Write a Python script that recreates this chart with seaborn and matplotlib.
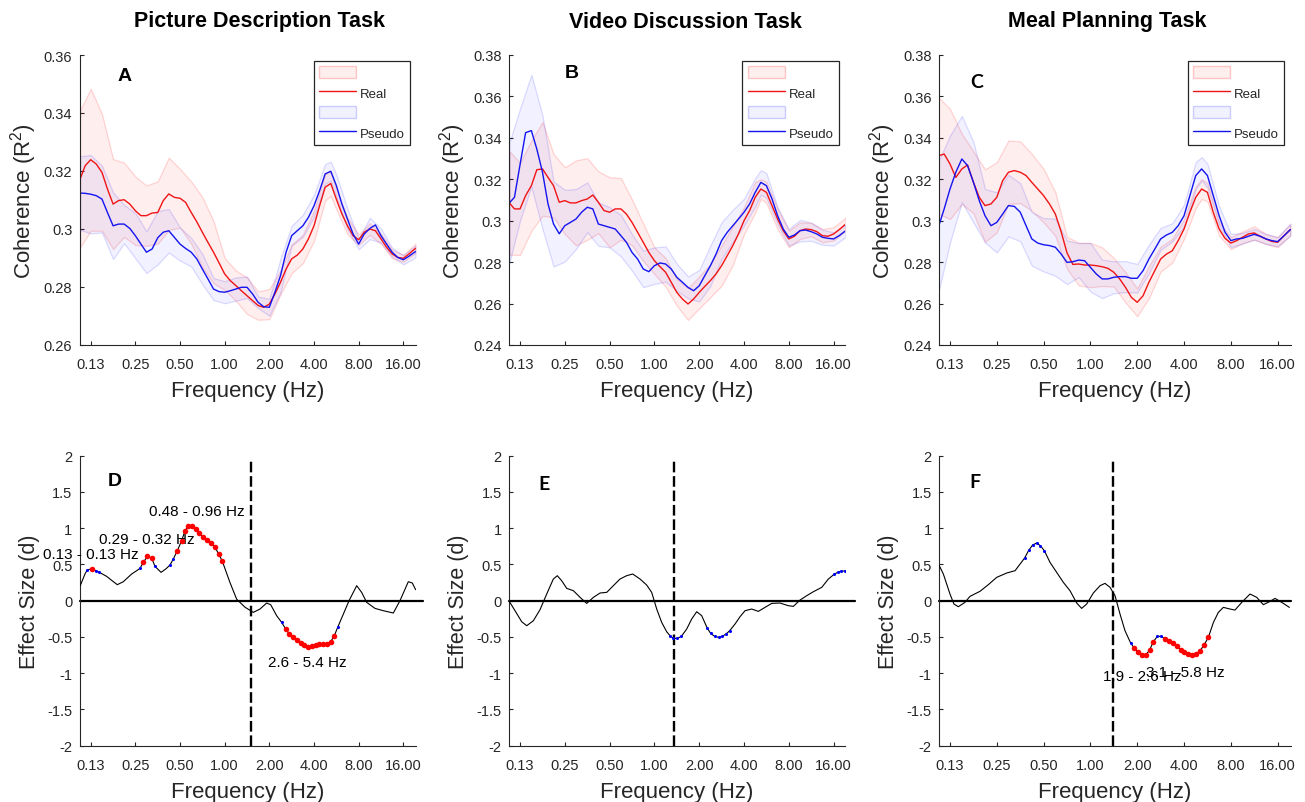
import matplotlib
matplotlib.use("Agg")
import matplotlib.pyplot as plt
import seaborn as sns
from matplotlib.patches import Patch
from matplotlib.lines import Line2D
from matplotlib.ticker import NullLocator, FixedLocator

# ---------------- data ----------------
TASKS = ["Picture Description Task", "Video Discussion Task", "Meal Planning Task"]
TOP_LETTERS = ["A", "B", "C"]
BOTTOM_LETTERS = ["D", "E", "F"]
TICK_FREQS = [0.125, 0.25, 0.5, 1, 2, 4, 8, 16]
TICK_LABELS = ["0.13", "0.25", "0.50", "1.00", "2.00", "4.00", "8.00", "16.00"]

# frequency grid for the mean curves (1/8 octave)
FREQ_FINE = [0.106, 0.1147, 0.125, 0.1363, 0.149, 0.1621, 0.177, 0.1928, 0.210, 0.2293, 0.250,
             0.2726, 0.297, 0.3242, 0.354, 0.3856, 0.420, 0.4585, 0.500, 0.5453, 0.595, 0.6484,
             0.707, 0.7711, 0.841, 0.917, 1.000, 1.0905, 1.189, 1.2968, 1.414, 1.5422, 1.682,
             1.834, 2.000, 2.181, 2.378, 2.594, 2.828, 3.084, 3.364, 3.668, 4.000, 4.362, 4.757,
             5.190, 5.657, 6.169, 6.727, 7.336, 8.000, 8.724, 9.514, 10.375, 11.31, 12.34, 13.45,
             14.67, 16.00, 17.45, 19.30]
# frequency grid for the standard-error bands (1/4 octave)
FREQ = [0.106, 0.125, 0.149, 0.177, 0.210, 0.250, 0.297, 0.354, 0.420, 0.500, 0.595,
        0.707, 0.841, 1.000, 1.189, 1.414, 1.682, 2.000, 2.378, 2.828, 3.364, 4.000,
        4.757, 5.190, 5.657, 6.727, 8.000, 9.514, 11.31, 13.45, 16.00, 19.30]

A_REAL = [0.3172, 0.3218, 0.3239, 0.3224, 0.3195, 0.3138, 0.3086, 0.3098, 0.3101, 0.3086, 0.3063,
          0.3046, 0.3046, 0.3055, 0.3057, 0.3098, 0.3121, 0.3109, 0.3106, 0.3092, 0.3057, 0.3025,
          0.2989, 0.2954, 0.2920, 0.2883, 0.2845, 0.2822, 0.2805, 0.2787, 0.2770, 0.2753, 0.2736,
          0.2730, 0.2741, 0.2776, 0.2816, 0.2862, 0.2897, 0.2910, 0.2931, 0.2966, 0.3011, 0.3080,
          0.3144, 0.3157, 0.3103, 0.3052, 0.3011, 0.2977, 0.2963, 0.2989, 0.3000, 0.2994, 0.2966,
          0.2937, 0.2914, 0.2902, 0.2899, 0.2914, 0.2933]
A_PSEUDO = [0.3124, 0.3123, 0.3120, 0.3115, 0.3103, 0.3057, 0.3011, 0.3017, 0.3017, 0.3002, 0.2977,
            0.2948, 0.2920, 0.2931, 0.2970, 0.2989, 0.2994, 0.2971, 0.2948, 0.2933, 0.2920, 0.2897,
            0.2862, 0.2828, 0.2793, 0.2784, 0.2782, 0.2787, 0.2793, 0.2799, 0.2799, 0.2776, 0.2747,
            0.2732, 0.2730, 0.2782, 0.2839, 0.2920, 0.2977, 0.2994, 0.3011, 0.3040, 0.3080, 0.3132,
            0.3190, 0.3199, 0.3150, 0.3086, 0.3034, 0.2983, 0.2948, 0.2983, 0.3002, 0.3014, 0.2977,
            0.2948, 0.2920, 0.2902, 0.2894, 0.2906, 0.2922]
A_REAL_SE = [0.0236, 0.0245, 0.0201, 0.0155, 0.0128, 0.0118, 0.0104, 0.0107, 0.0125, 0.0101, 0.0107,
             0.0121, 0.0107, 0.0055, 0.0052, 0.0063, 0.0049, 0.0052, 0.0041, 0.0049, 0.0049, 0.0052,
             0.0046, 0.0043, 0.0035, 0.0029, 0.0018, 0.0020, 0.0017, 0.0015, 0.0012, 0.0016]
A_REAL_BAND = [0.3172, 0.3239, 0.3195, 0.3086, 0.3101, 0.3063, 0.3046, 0.3057, 0.3121, 0.3106, 0.3057,
               0.2989, 0.2920, 0.2845, 0.2805, 0.2770, 0.2736, 0.2741, 0.2816, 0.2897, 0.2931, 0.3011,
               0.3144, 0.3157, 0.3103, 0.3011, 0.2963, 0.3000, 0.2966, 0.2914, 0.2899, 0.2933]
A_PSEUDO_SE = [0.0127, 0.0135, 0.0115, 0.0115, 0.0066, 0.0078, 0.0072, 0.0092, 0.0075, 0.0057, 0.0049,
               0.0052, 0.0038, 0.0038, 0.0040, 0.0037, 0.0020, 0.0029, 0.0058, 0.0034, 0.0038, 0.0038,
               0.0034, 0.0033, 0.0037, 0.0035, 0.0018, 0.0037, 0.0024, 0.0015, 0.0016, 0.0020]
A_PSEUDO_BAND = [0.3124, 0.3120, 0.3103, 0.3011, 0.3017, 0.2977, 0.2920, 0.2970, 0.2994, 0.2948, 0.2920,
                 0.2862, 0.2793, 0.2782, 0.2793, 0.2799, 0.2747, 0.2730, 0.2839, 0.2977, 0.3011, 0.3080,
                 0.3190, 0.3199, 0.3150, 0.3034, 0.2948, 0.3002, 0.2977, 0.2920, 0.2894, 0.2922]

B_REAL = [0.3086, 0.3057, 0.3057, 0.3121, 0.3169, 0.3246, 0.3250, 0.3209, 0.3169, 0.3089, 0.3097,
          0.3086, 0.3086, 0.3097, 0.3105, 0.3124, 0.3089, 0.3049, 0.3041, 0.3057, 0.3057, 0.3032,
          0.2992, 0.2944, 0.2896, 0.2847, 0.2807, 0.2778, 0.2751, 0.2703, 0.2654, 0.2622, 0.2598,
          0.2622, 0.2654, 0.2683, 0.2711, 0.2743, 0.2783, 0.2831, 0.2880, 0.2936, 0.3000, 0.3049,
          0.3113, 0.3153, 0.3137, 0.3073, 0.3008, 0.2952, 0.2912, 0.2925, 0.2952, 0.2960, 0.2957,
          0.2947, 0.2928, 0.2925, 0.2936, 0.2957, 0.2984]
B_PSEUDO = [0.3086, 0.3113, 0.3270, 0.3425, 0.3435, 0.3346, 0.3234, 0.3081, 0.2984, 0.2937, 0.2976,
            0.2992, 0.3008, 0.3041, 0.3065, 0.3057, 0.2984, 0.2976, 0.2968, 0.2960, 0.2928, 0.2896,
            0.2847, 0.2815, 0.2767, 0.2754, 0.2783, 0.2796, 0.2791, 0.2767, 0.2727, 0.2703, 0.2678,
            0.2662, 0.2686, 0.2735, 0.2783, 0.2839, 0.2904, 0.2944, 0.2976, 0.3008, 0.3041, 0.3081,
            0.3137, 0.3185, 0.3169, 0.3105, 0.3024, 0.2960, 0.2920, 0.2931, 0.2952, 0.2955, 0.2947,
            0.2936, 0.2920, 0.2915, 0.2912, 0.2928, 0.2952]
B_REAL_SE = [0.0250, 0.0222, 0.0218, 0.0226, 0.0153, 0.0161, 0.0205, 0.0197, 0.0149, 0.0169, 0.0149,
             0.0110, 0.0090, 0.0064, 0.0069, 0.0064, 0.0077, 0.0077, 0.0080, 0.0097, 0.0093, 0.0065,
             0.0073, 0.0047, 0.0052, 0.0049, 0.0040, 0.0040, 0.0032, 0.0032, 0.0032, 0.0032]
B_REAL_BAND = [0.3086, 0.3057, 0.3169, 0.3250, 0.3169, 0.3097, 0.3086, 0.3105, 0.3089, 0.3041, 0.3057,
               0.2992, 0.2896, 0.2807, 0.2751, 0.2654, 0.2598, 0.2654, 0.2711, 0.2783, 0.2880, 0.3000,
               0.3113, 0.3153, 0.3137, 0.3008, 0.2912, 0.2952, 0.2957, 0.2928, 0.2936, 0.2984]
B_PSEUDO_SE = [0.0290, 0.0270, 0.0270, 0.0274, 0.0205, 0.0173, 0.0145, 0.0120, 0.0105, 0.0097, 0.0100,
               0.0088, 0.0088, 0.0088, 0.0085, 0.0065, 0.0053, 0.0076, 0.0097, 0.0089, 0.0077, 0.0065,
               0.0068, 0.0059, 0.0060, 0.0040, 0.0040, 0.0052, 0.0044, 0.0036, 0.0032, 0.0030]
B_PSEUDO_BAND = [0.3086, 0.3270, 0.3435, 0.3234, 0.2984, 0.2976, 0.3008, 0.3065, 0.2984, 0.2968, 0.2928,
                 0.2847, 0.2767, 0.2783, 0.2791, 0.2727, 0.2678, 0.2686, 0.2783, 0.2904, 0.2976, 0.3041,
                 0.3137, 0.3185, 0.3169, 0.3024, 0.2920, 0.2952, 0.2947, 0.2920, 0.2912, 0.2952]

C_REAL = [0.3314, 0.3322, 0.3274, 0.3209, 0.3250, 0.3269, 0.3185, 0.3113, 0.3073, 0.3081, 0.3113,
          0.3193, 0.3234, 0.3242, 0.3234, 0.3218, 0.3185, 0.3153, 0.3121, 0.3081, 0.3032, 0.2947,
          0.2845, 0.2789, 0.2791, 0.2786, 0.2786, 0.2783, 0.2778, 0.2770, 0.2751, 0.2719, 0.2678,
          0.2630, 0.2606, 0.2638, 0.2703, 0.2759, 0.2815, 0.2839, 0.2855, 0.2904, 0.2960, 0.3041,
          0.3113, 0.3153, 0.3137, 0.3040, 0.2960, 0.2915, 0.2892, 0.2904, 0.2920, 0.2936, 0.2941,
          0.2925, 0.2912, 0.2900, 0.2896, 0.2925, 0.2957]
C_PSEUDO = [0.2976, 0.3057, 0.3153, 0.3234, 0.3298, 0.3266, 0.3185, 0.3097, 0.3024, 0.2976, 0.2992,
            0.3032, 0.3073, 0.3069, 0.3041, 0.2976, 0.2912, 0.2892, 0.2884, 0.2880, 0.2872, 0.2839,
            0.2799, 0.2802, 0.2810, 0.2807, 0.2775, 0.2743, 0.2719, 0.2719, 0.2727, 0.2730, 0.2730,
            0.2722, 0.2722, 0.2759, 0.2815, 0.2863, 0.2912, 0.2931, 0.2944, 0.2976, 0.3024, 0.3121,
            0.3218, 0.3250, 0.3218, 0.3121, 0.3024, 0.2945, 0.2904, 0.2912, 0.2915, 0.2925, 0.2934,
            0.2925, 0.2912, 0.2904, 0.2899, 0.2925, 0.2957]
C_REAL_SE = [0.0280, 0.0266, 0.0169, 0.0149, 0.0175, 0.0169, 0.0153, 0.0149, 0.0137, 0.0129, 0.0105,
             0.0077, 0.0103, 0.0107, 0.0093, 0.0069, 0.0073, 0.0067, 0.0077, 0.0060, 0.0057, 0.0048,
             0.0052, 0.0048, 0.0044, 0.0032, 0.0029, 0.0028, 0.0032, 0.0024, 0.0024, 0.0026]
C_REAL_BAND = [0.3314, 0.3274, 0.3250, 0.3185, 0.3073, 0.3113, 0.3234, 0.3234, 0.3185, 0.3121, 0.3032,
               0.2845, 0.2791, 0.2786, 0.2778, 0.2751, 0.2678, 0.2606, 0.2703, 0.2815, 0.2855, 0.2960,
               0.3113, 0.3153, 0.3137, 0.2960, 0.2892, 0.2920, 0.2941, 0.2912, 0.2896, 0.2957]
C_PSEUDO_SE = [0.0314, 0.0258, 0.0208, 0.0194, 0.0129, 0.0145, 0.0149, 0.0140, 0.0129, 0.0129, 0.0138,
               0.0105, 0.0082, 0.0117, 0.0093, 0.0077, 0.0075, 0.0069, 0.0069, 0.0053, 0.0044, 0.0053,
               0.0065, 0.0057, 0.0057, 0.0045, 0.0032, 0.0026, 0.0026, 0.0024, 0.0022, 0.0030]
C_PSEUDO_BAND = [0.2976, 0.3153, 0.3298, 0.3185, 0.3024, 0.2992, 0.3073, 0.3041, 0.2912, 0.2884, 0.2872,
                 0.2799, 0.2810, 0.2775, 0.2719, 0.2727, 0.2730, 0.2722, 0.2815, 0.2912, 0.2944, 0.3024,
                 0.3218, 0.3250, 0.3218, 0.3024, 0.2904, 0.2915, 0.2934, 0.2912, 0.2899, 0.2957]

# effect size curves (Cohen's d)
D_CURVE_F = [0.1063, 0.1144, 0.160, 0.1779, 0.189, 0.2074, 0.236, 0.2553, 0.3724, 0.4006, 1.086,
             1.205, 1.371, 1.56, 1.73, 1.919, 2.042, 2.241, 6.31, 6.89, 7.76, 8.38, 9.06, 10.31,
             11.73, 13.70, 15.19, 17.29, 18.39, 19.37]
D_CURVE_D = [0.207, 0.368, 0.336, 0.262, 0.221, 0.262, 0.368, 0.414, 0.391, 0.437, 0.25,
             0.02, -0.09, -0.161, -0.115, -0.032, -0.055, -0.207, -0.184, 0.0, 0.207, 0.115, -0.023,
             -0.106, -0.138, -0.17, 0.0, 0.262, 0.244, 0.152]
D_RED_F = [0.1271, 0.2831, 0.3012, 0.3221, 0.4796, 0.5128, 0.5404, 0.5697, 0.5993, 0.6377, 0.6751,
           0.7183, 0.7641, 0.8088, 0.8608, 0.9113, 0.9646, 2.578, 2.729, 2.903, 3.088, 3.270, 3.444,
           3.663, 3.859, 4.104, 4.344, 4.624, 4.871, 5.181, 5.484]
D_RED_D = [0.437, 0.529, 0.611, 0.589, 0.69, 0.828, 0.966, 1.025, 1.025, 0.989, 0.929,
           0.874, 0.837, 0.795, 0.736, 0.644, 0.543, -0.391, -0.46, -0.506, -0.543, -0.584, -0.611,
           -0.639, -0.63, -0.607, -0.598, -0.602, -0.602, -0.566, -0.483]
D_BLUE_F = [0.1187, 0.1353, 0.1431, 0.2686, 0.339, 0.4279, 0.4507, 2.422, 5.776]
D_BLUE_D = [0.428, 0.414, 0.391, 0.446, 0.474, 0.492, 0.575, -0.299, -0.368]

E_CURVE_F = [0.1059, 0.1157, 0.1283, 0.1387, 0.1537, 0.1703, 0.1889, 0.2093, 0.2226, 0.2381, 0.2575,
             0.2855, 0.3165, 0.3509, 0.3889, 0.4312, 0.4781, 0.5297, 0.5873, 0.6509, 0.7145, 0.8004,
             0.8870, 0.9586, 1.036, 1.119, 1.209, 1.647, 1.780, 1.923, 2.078, 3.480, 3.760, 4.062,
             4.503, 4.993, 5.536, 6.139, 6.984, 7.944, 8.582, 9.514, 10.55, 11.70, 13.31, 14.75]
E_CURVE_D = [-0.01, -0.138, -0.29, -0.345, -0.276, -0.124, 0.092, 0.299, 0.345, 0.276, 0.17,
             0.138, 0.046, -0.037, 0.046, 0.106, 0.115, 0.207, 0.299, 0.345, 0.368, 0.299,
             0.216, 0.115, -0.115, -0.299, -0.428, -0.391, -0.253, -0.152, -0.207, -0.322, -0.221, -0.138,
             -0.115, -0.147, -0.092, -0.037, -0.032, -0.069, -0.078, 0.009, 0.069, 0.124, 0.184, 0.299]
E_RED_F = []
E_RED_D = []
E_BLUE_F = [1.273, 1.341, 1.426, 1.517, 2.269, 2.389, 2.540, 2.703, 2.860, 3.027, 3.204,
            16.10, 17.04, 18.04, 19.08]
E_BLUE_D = [-0.483, -0.52, -0.52, -0.492, -0.382, -0.451, -0.492, -0.506, -0.492, -0.46, -0.414,
            0.363, 0.391, 0.409, 0.409]

F_CURVE_F = [0.1067, 0.1133, 0.125, 0.1325, 0.1414, 0.1560, 0.1681, 0.1948, 0.2205, 0.2496, 0.2896,
             0.3277, 0.5496, 0.6067, 0.6697, 0.7390, 0.8162, 0.8784, 0.9461, 1.044, 1.153, 1.241,
             1.337, 1.440, 1.550, 1.669, 6.18, 6.65, 7.16, 7.91, 8.51, 9.40, 10.63, 11.74, 12.95,
             14.30, 15.39, 17.00, 19.04]
F_CURVE_D = [0.483, 0.368, 0.092, -0.046, -0.083, -0.023, 0.06, 0.129, 0.221, 0.322, 0.382,
             0.414, 0.529, 0.391, 0.253, 0.138, -0.032, -0.106, -0.046, 0.106, 0.207, 0.239,
             0.184, 0.069, -0.184, -0.414, -0.299, -0.161, -0.092, -0.115, -0.129, -0.023, 0.092,
             0.046, -0.055, -0.009, 0.032, -0.023, -0.092]
F_RED_F = [1.917, 2.034, 2.148, 2.278, 2.405, 2.540, 3.019, 3.187, 3.382, 3.588, 3.807, 4.020,
           4.266, 4.504, 4.777, 5.069, 5.378, 5.735]
F_RED_D = [-0.657, -0.713, -0.749, -0.749, -0.676, -0.566, -0.529, -0.561, -0.589, -0.63, -0.676,
           -0.713, -0.736, -0.749, -0.736, -0.69, -0.611, -0.506]
F_BLUE_F = [0.3776, 0.4009, 0.4249, 0.4513, 0.4763, 0.5055, 1.815, 2.694, 2.860]
F_BLUE_D = [0.589, 0.694, 0.768, 0.795, 0.759, 0.69, -0.584, -0.492, -0.492]

CUTOFF_HZ = [1.497, 1.354, 1.391]

D_LABELS = ["0.13 - 0.13 Hz", "0.29 - 0.32 Hz", "0.48 - 0.96 Hz", "2.6 - 5.4 Hz"]
E_LABELS = []
F_LABELS = ["1.9 - 2.6 Hz", "3.1 - 5.8 Hz"]

# ---------------- style ----------------
sns.set_style("ticks")
plt.rcParams["font.family"] = ["Liberation Sans", "DejaVu Sans"]
plt.rcParams["mathtext.default"] = "regular"
DARK = "#262626"
RED = "#f01414"
BLUE = "#1414f0"
RED_FILL = (1.0, 0.0, 0.0, 0.065)
RED_EDGE = (1.0, 0.0, 0.0, 0.15)
BLUE_FILL = (0.0, 0.0, 1.0, 0.055)
BLUE_EDGE = (0.0, 0.0, 1.0, 0.13)

W, H = 1305, 803
fig = plt.figure(figsize=(W / 100, H / 100), dpi=100)

def px_axes(left, top, right, bottom):
    return fig.add_axes([left / W, 1 - bottom / H, (right - left) / W, (bottom - top) / H])

cols = [(80.0, 416.0), (509.3, 844.7), (939.3, 1290.7)]
xlims = [(0.1059, 19.48), (0.1059, 18.99), (0.1067, 19.41)]
top_axes = [px_axes(l, 56, r, 346) for l, r in cols]
bot_axes = [px_axes(l, 456.7, r, 746.7) for l, r in cols]

def style_axis(ax, xlim):
    ax.set_xscale("log", base=2)
    ax.set_xlim(*xlim)
    ax.xaxis.set_major_locator(FixedLocator(TICK_FREQS))
    ax.set_xticklabels(TICK_LABELS)
    ax.xaxis.set_minor_locator(NullLocator())
    ax.yaxis.set_minor_locator(NullLocator())
    for s in ["top", "right"]:
        ax.spines[s].set_visible(False)
    for s in ["left", "bottom"]:
        ax.spines[s].set_color(DARK)
        ax.spines[s].set_linewidth(0.8)
    ax.tick_params(axis="both", direction="in", length=3, width=0.8, color=DARK,
                   labelcolor=DARK, labelsize=10.5)
    ax.tick_params(axis="y", pad=5.5)
    ax.tick_params(axis="x", pad=8.5)
    ax.set_xlabel("Frequency (Hz)", fontsize=16, color=DARK, labelpad=6.5)

top_data = [(A_REAL, A_PSEUDO, A_REAL_BAND, A_REAL_SE, A_PSEUDO_BAND, A_PSEUDO_SE),
            (B_REAL, B_PSEUDO, B_REAL_BAND, B_REAL_SE, B_PSEUDO_BAND, B_PSEUDO_SE),
            (C_REAL, C_PSEUDO, C_REAL_BAND, C_REAL_SE, C_PSEUDO_BAND, C_PSEUDO_SE)]
top_ylims = [(0.26, 0.36), (0.24, 0.38), (0.24, 0.38)]
top_yticks = [[0.26, 0.28, 0.30, 0.32, 0.34, 0.36],
              [0.24, 0.26, 0.28, 0.30, 0.32, 0.34, 0.36, 0.38],
              [0.24, 0.26, 0.28, 0.30, 0.32, 0.34, 0.36, 0.38]]

for ax, (real, pse, rb, rse, pb, pse_se), xl, yl, yt in zip(top_axes, top_data, xlims,
                                                           top_ylims, top_yticks):
    ax.fill_between(FREQ, [m - s for m, s in zip(rb, rse)], [m + s for m, s in zip(rb, rse)],
                    facecolor=RED_FILL, edgecolor=RED_EDGE, lw=0.9)
    ax.fill_between(FREQ, [m - s for m, s in zip(pb, pse_se)], [m + s for m, s in zip(pb, pse_se)],
                    facecolor=BLUE_FILL, edgecolor=BLUE_EDGE, lw=0.9)
    sns.lineplot(x=FREQ_FINE, y=real, ax=ax, color=RED, linewidth=1.0, estimator=None, sort=False)
    sns.lineplot(x=FREQ_FINE, y=pse, ax=ax, color=BLUE, linewidth=1.0, estimator=None, sort=False)
    style_axis(ax, xl)
    ax.set_ylim(*yl)
    ax.set_yticks(yt)
    ax.set_yticklabels([("%.2f" % v).rstrip("0") for v in yt])
    ax.set_ylabel("Coherence (R$^{2}$)", fontsize=16, color=DARK, labelpad=3.5)
    handles = [Patch(facecolor=RED_FILL, edgecolor=(1, 0, 0, 0.2), lw=1.0),
               Line2D([0], [0], color=RED, lw=1.0),
               Patch(facecolor=BLUE_FILL, edgecolor=(0, 0, 1, 0.18), lw=1.0),
               Line2D([0], [0], color=BLUE, lw=1.0)]
    leg = ax.legend(handles, ["", "Real", "", "Pseudo"], loc="upper right",
                    bbox_to_anchor=(0.982, 0.98), borderaxespad=0, fontsize=9.5,
                    frameon=True, fancybox=False, framealpha=1, edgecolor=DARK,
                    handlelength=2.8, handleheight=1.0, labelspacing=0.5,
                    handletextpad=0.3, borderpad=0.4)
    leg.get_frame().set_linewidth(0.9)

bot_data = [(D_CURVE_F, D_CURVE_D, D_RED_F, D_RED_D, D_BLUE_F, D_BLUE_D),
            (E_CURVE_F, E_CURVE_D, E_RED_F, E_RED_D, E_BLUE_F, E_BLUE_D),
            (F_CURVE_F, F_CURVE_D, F_RED_F, F_RED_D, F_BLUE_F, F_BLUE_D)]
zero_ext = [1.02, 1.03, 1.0]
for ax, (cf, cd, rf, rd, bf, bd), xl, cut, ze in zip(bot_axes, bot_data, xlims, CUTOFF_HZ, zero_ext):
    pts = sorted(zip(list(cf) + list(rf) + list(bf), list(cd) + list(rd) + list(bd)))
    lf = [p[0] for p in pts]
    ld = [p[1] for p in pts]
    ax.axhline(0, xmin=0, xmax=ze, color="black", lw=1.6, clip_on=False, zorder=2)
    ax.axvline(cut, ymin=0, ymax=0.985, color="black", lw=1.7, dashes=(4.5, 1.6), zorder=2)
    sns.lineplot(x=lf, y=ld, ax=ax, color="black", linewidth=0.8, estimator=None, sort=False, zorder=3)
    if bf:
        sns.scatterplot(x=bf, y=bd, ax=ax, color="#0000ff", s=5, linewidth=0, zorder=4)
    if rf:
        sns.scatterplot(x=rf, y=rd, ax=ax, color="#ff0000", s=16, linewidth=0, zorder=5)
    style_axis(ax, xl)
    ax.set_ylim(-2, 2)
    yt = [-2, -1.5, -1, -0.5, 0, 0.5, 1, 1.5, 2]
    ax.set_yticks(yt)
    ax.set_yticklabels(["%g" % v for v in yt])
    ax.set_ylabel("Effect Size (d)", fontsize=15.5, color=DARK, labelpad=5)

# range annotations (left edge frequency, d)
d_pos = [(0.060, 0.644), (0.1421, 0.851), (0.3092, 1.241), (1.949, -0.851)]
for txt, (x, y) in zip(D_LABELS, d_pos):
    bot_axes[0].text(x, y, txt, fontsize=11, ha="left", va="center", color="black", clip_on=False)
f_pos = [(1.211, -1.044), (2.278, -0.989)]
for txt, (x, y) in zip(F_LABELS, f_pos):
    bot_axes[2].text(x, y, txt, fontsize=11, ha="left", va="center", color="black", clip_on=False)

# titles
for txt, xc in zip(TASKS, [260, 685, 1107]):
    fig.text(xc / W, 1 - 22 / H, txt, fontsize=15.5, fontweight="bold", ha="center", va="center",
             color="black")

# panel letters
letter_pos = [(125, 76.7), (571.7, 73), (977, 82), (114.3, 482), (544, 485), (975, 483)]
letter_fonts = [["Liberation Sans"], ["Liberation Sans"], ["Lato", "Liberation Sans"],
                ["Liberation Sans"], ["Lato", "Liberation Sans"], ["Lato", "Liberation Sans"]]
for lab, (x, y), fam in zip(TOP_LETTERS + BOTTOM_LETTERS, letter_pos, letter_fonts):
    fig.text(x / W, 1 - y / H, lab, fontsize=14, fontweight="bold", ha="center", va="center",
             color="black", family=fam)

fig.savefig("out.png", dpi=100)
